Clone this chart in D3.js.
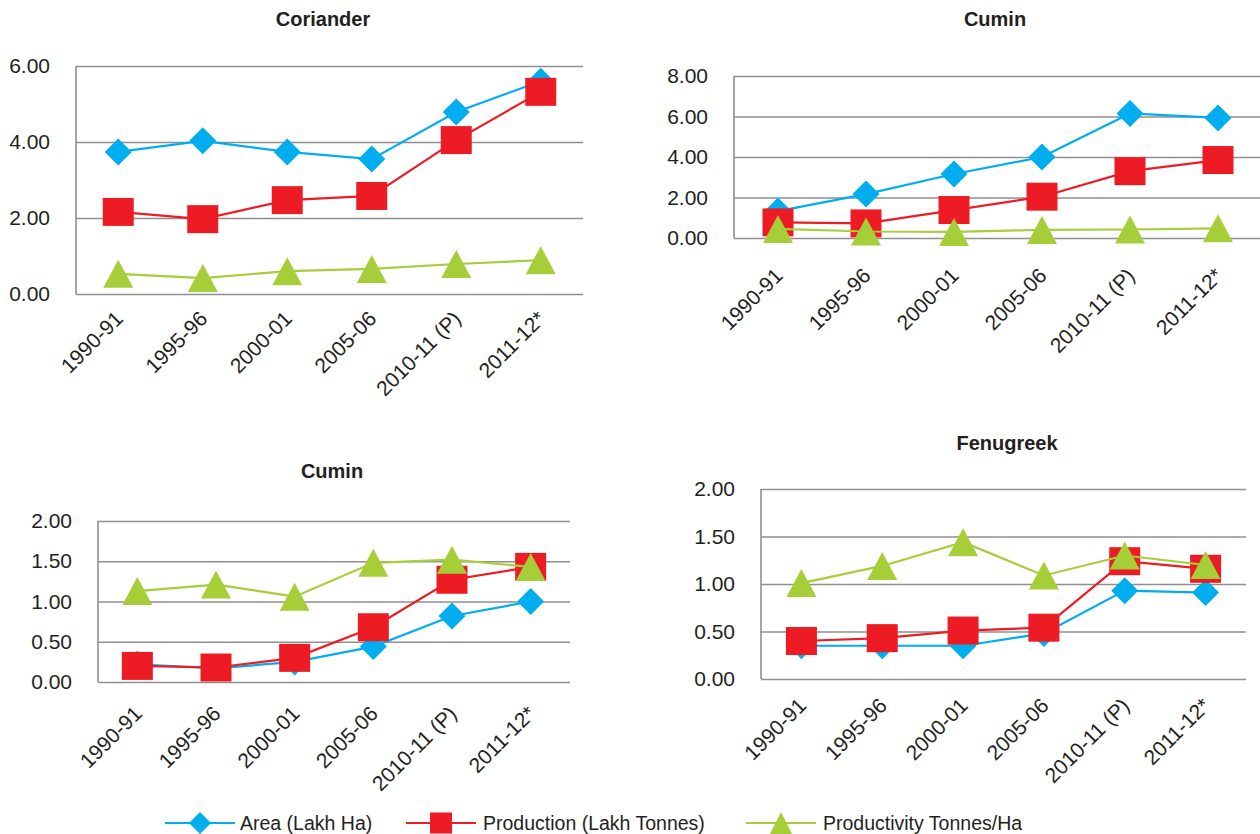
<!DOCTYPE html>
<html>
<head>
<meta charset="utf-8">
<script src="https://cdn.jsdelivr.net/npm/d3@7"></script>
<style>
    body { margin: 0; background: #fff; }
    text { font-family: "Liberation Sans", Arial, sans-serif; fill: #231f20; }
</style>
</head>
<body>
<svg width="1260" height="834"></svg>
<script>
const years = ["1990-91", "1995-96", "2000-01", "2005-06", "2010-11 (P)", "2011-12*"]
const series_names = ["Area (Lakh Ha)", "Production (Lakh Tonnes)", "Productivity Tonnes/Ha"]

const coriander_area = [3.74, 4.03, 3.74, 3.55, 4.79, 5.6]
const coriander_production = [2.16, 1.97, 2.47, 2.58, 4.05, 5.32]
const coriander_productivity = [0.53, 0.42, 0.6, 0.66, 0.79, 0.89]
const coriander_ticks = [0, 2, 4, 6]

const cumin_area = [1.33, 2.17, 3.16, 4.0, 6.15, 5.93]
const cumin_production = [0.77, 0.72, 1.38, 2.04, 3.3, 3.85]
const cumin_productivity = [0.45, 0.32, 0.3, 0.4, 0.42, 0.48]
const cumin_ticks = [0, 2, 4, 6, 8]

const cumin2_area = [0.22, 0.17, 0.25, 0.44, 0.82, 1.0]
const cumin2_production = [0.2, 0.18, 0.3, 0.68, 1.27, 1.43]
const cumin2_productivity = [1.13, 1.21, 1.06, 1.48, 1.52, 1.43]
const cumin2_ticks = [0, 0.5, 1, 1.5, 2]

const fenugreek_area = [0.35, 0.35, 0.35, 0.48, 0.93, 0.91]
const fenugreek_production = [0.4, 0.43, 0.51, 0.54, 1.24, 1.16]
const fenugreek_productivity = [1.01, 1.19, 1.44, 1.09, 1.3, 1.2]
const fenugreek_ticks = [0, 0.5, 1, 1.5, 2]

const colors = ["#00aeef", "#ed1c24", "#a6ce39"]
const grid_color = "#8f8f8f"
const line_width = 2.2

// panel layout, pixels
const panels = [
    { title: "Coriander", tx: 323, ty: 26, left: 76, right: 583, top: 66, bottom: 294, gap: 16,
      ticks: coriander_ticks, series: [coriander_area, coriander_production, coriander_productivity] },
    { title: "Cumin", tx: 995, ty: 26, left: 734, right: 1262, top: 76, bottom: 238, gap: 29,
      ticks: cumin_ticks, series: [cumin_area, cumin_production, cumin_productivity] },
    { title: "Cumin", tx: 332, ty: 478, left: 98, right: 570, top: 521, bottom: 682, gap: 23,
      ticks: cumin2_ticks, series: [cumin2_area, cumin2_production, cumin2_productivity] },
    { title: "Fenugreek", tx: 1007, ty: 450, left: 761, right: 1246, top: 489, bottom: 679, gap: 18,
      ticks: fenugreek_ticks, series: [fenugreek_area, fenugreek_production, fenugreek_productivity] }
]

function draw_marker(sel, kind, color, w, h) {
    if (kind === 0) {
        sel.append("path")
            .attr("d", `M0,${-h / 2}L${w / 2},0L0,${h / 2}L${-w / 2},0Z`)
            .attr("fill", color)
    } else if (kind === 1) {
        sel.append("rect")
            .attr("x", -w / 2).attr("y", -h / 2)
            .attr("width", w).attr("height", h)
            .attr("fill", color)
    } else {
        sel.append("path")
            .attr("d", `M0,${-h / 2}L${w / 2},${h / 2}L${-w / 2},${h / 2}Z`)
            .attr("fill", color)
    }
}

const marker_size = [[27, 27], [31, 28], [30, 28]]

const svg = d3.select("svg")

panels.forEach(panel => {
    const g = svg.append("g")

    const x = d3.scaleBand().domain(years).range([panel.left, panel.right])
    const y = d3.scaleLinear()
        .domain([0, d3.max(panel.ticks)])
        .range([panel.bottom, panel.top])

    g.append("text")
        .attr("x", panel.tx)
        .attr("y", panel.ty)
        .attr("text-anchor", "middle")
        .attr("font-size", 20)
        .attr("font-weight", "bold")
        .text(panel.title)

    // y axis with gridlines
    const y_axis = g.append("g")
        .attr("transform", `translate(${panel.left},0)`)
        .call(d3.axisLeft(y)
            .tickValues(panel.ticks)
            .tickSize(-(panel.right - panel.left))
            .tickPadding(26)
            .tickFormat(d3.format(".2f")))
    y_axis.select(".domain").remove()
    y_axis.selectAll("line").attr("stroke", grid_color).attr("stroke-width", 1.4)
    y_axis.selectAll("text")
        .attr("font-size", 21)
        .attr("font-family", "Liberation Sans, Arial, sans-serif")
        .attr("fill", "#231f20")

    g.append("line")
        .attr("x1", panel.left).attr("x2", panel.left)
        .attr("y1", y(d3.max(panel.ticks))).attr("y2", y(0))
        .attr("stroke", grid_color)
        .attr("stroke-width", 1.6)

    // x axis, rotated labels
    const x_axis = g.append("g")
        .attr("transform", `translate(0,${panel.bottom})`)
        .call(d3.axisBottom(x).tickSize(0))
    x_axis.select(".domain").remove()
    x_axis.selectAll("text")
        .attr("x", 0).attr("y", 0).attr("dy", 0)
        .attr("text-anchor", "end")
        .attr("transform", `translate(6,${panel.gap + 10}) rotate(-45)`)
        .attr("font-size", 21)
        .attr("font-family", "Liberation Sans, Arial, sans-serif")
        .attr("fill", "#231f20")

    const line = d3.line()
        .x((d, i) => x(years[i]) + x.bandwidth() / 2)
        .y(d => y(d))

    panel.series.forEach((values, k) => {
        g.append("path")
            .datum(values)
            .attr("d", line)
            .attr("fill", "none")
            .attr("stroke", colors[k])
            .attr("stroke-width", line_width)

        g.selectAll(null)
            .data(values)
            .enter()
            .append("g")
            .attr("transform", (d, i) => `translate(${x(years[i]) + x.bandwidth() / 2},${y(d)})`)
            .each(function () {
                draw_marker(d3.select(this), k, colors[k], marker_size[k][0], marker_size[k][1])
            })
    })
})

// legend
const legend_x = [165, 406, 746]
const legend_y = 823
const legend = svg.append("g")
series_names.forEach((name, k) => {
    const item = legend.append("g").attr("transform", `translate(${legend_x[k]},${legend_y})`)
    item.append("line")
        .attr("x1", 0).attr("x2", 70)
        .attr("y1", 0).attr("y2", 0)
        .attr("stroke", colors[k])
        .attr("stroke-width", line_width)
    const m = item.append("g").attr("transform", "translate(35,0)")
    draw_marker(m, k, colors[k], 22, k === 1 ? 21 : 22)
    item.append("text")
        .attr("x", k === 0 ? 75 : 77)
        .attr("y", 0)
        .attr("dy", "0.35em")
        .attr("font-size", 19.5)
        .text(name)
})
</script>
</body>
</html>
